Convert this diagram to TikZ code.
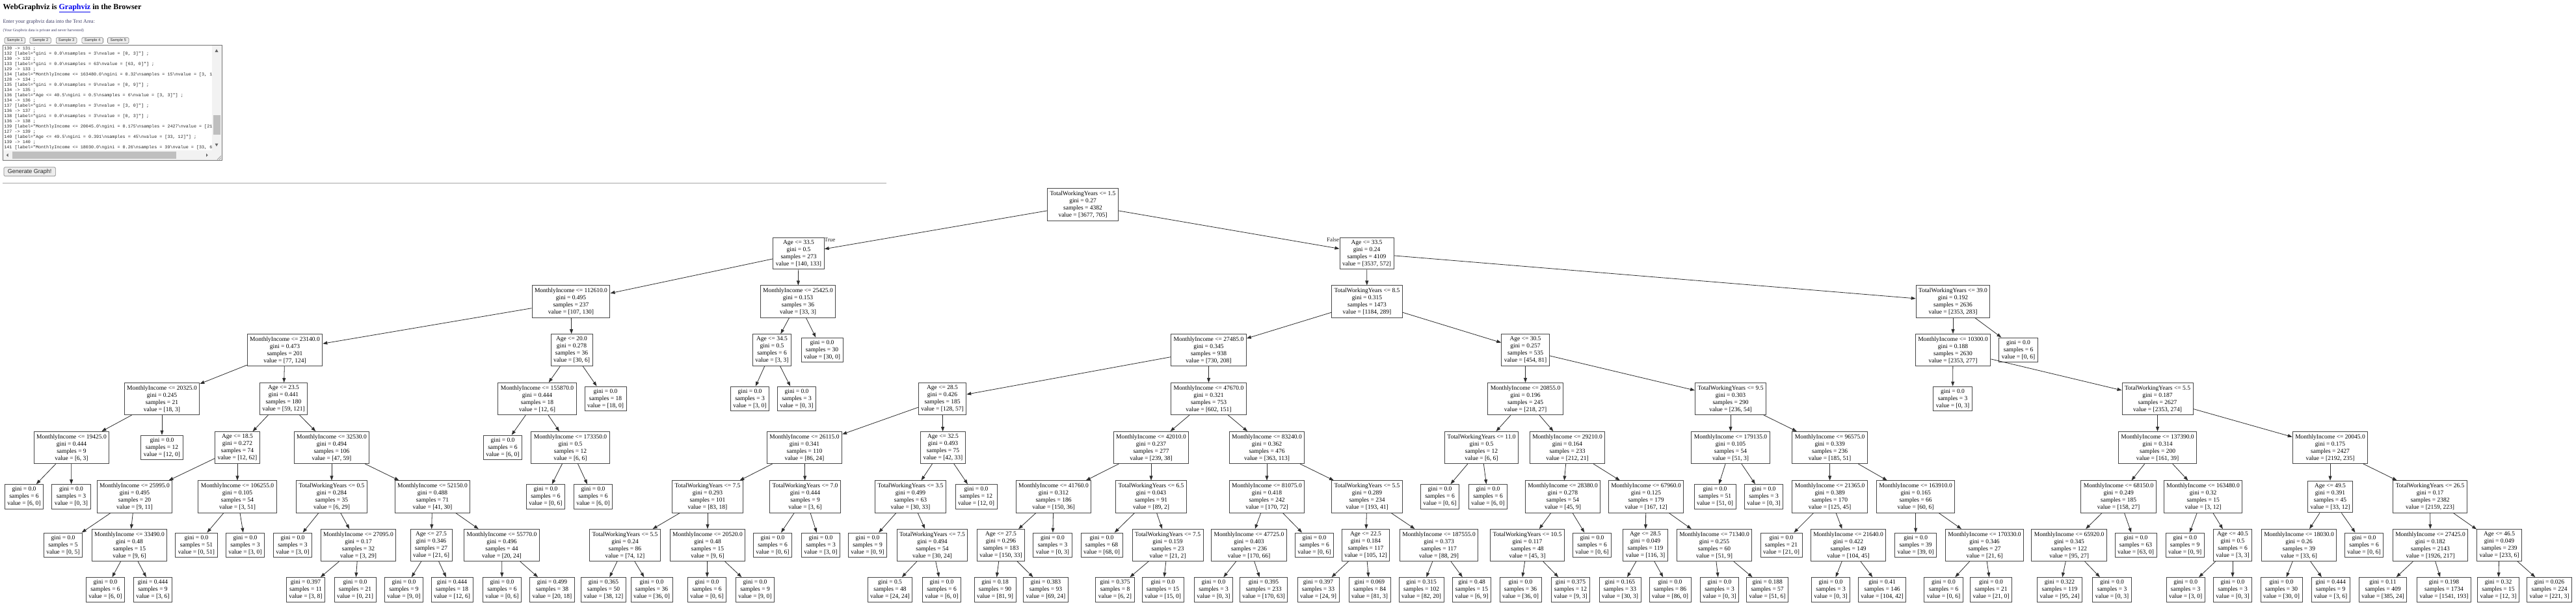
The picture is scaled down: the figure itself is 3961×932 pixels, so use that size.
\documentclass[tikz,border=0pt]{standalone}
\usepackage{fontspec}
\setmainfont{Liberation Serif}
\setsansfont{Liberation Sans}
\setmonofont{Liberation Mono}
\usetikzlibrary{arrows.meta}
\definecolor{linkblue}{HTML}{0000EE}
\definecolor{subtxt}{HTML}{3E3E66}
\newcommand\BSL{\textbackslash}
\newcommand\gvI[7]{\node[gvbox] (#1) at (#2,#3) {#4\\gini = #5\\samples = #6\\value = [#7]};}
\newcommand\gvL[6]{\node[gvbox] (#1) at (#2,#3) {gini = #4\\samples = #5\\value = [#6]};}
\begin{document}
\begin{tikzpicture}[x=1pt,y=-1pt,
  gvbox/.style={draw=black!72, line width=1pt, fill=white, align=center,
    font={\fontsize{9.5}{11}\selectfont}, inner xsep=4pt, inner ysep=4pt},
  gvedge/.style={draw=black!82, line width=0.8pt, -{Triangle[length=7pt,width=5pt]}},
  lbl/.style={inner sep=0pt, font={\fontsize{9}{10}\selectfont}, text=black!85},
  btn/.style={draw=black!50, fill=black!7, rounded corners=1.5pt, line width=0.6pt,
    inner sep=0pt, font={\sffamily\fontsize{5.8}{6.5}\selectfont}, text=black!80},
  mono/.style={anchor=base west, inner sep=0pt, text=black!85,
    font={\ttfamily\fontsize{6.75}{8}\selectfont}}]
\useasboundingbox (0,0) rectangle (3961,932);
\fill[white] (0,0) rectangle (3961,932);

% ---------- web page header ----------
\node[anchor=base west, inner sep=0pt, font={\bfseries\fontsize{12}{14}\selectfont}] (title) at (4.4,14.3)
  {WebGraphviz is \textcolor{linkblue}{\underline{Graphviz}} in the Browser};
\node[anchor=base west, inner sep=0pt, text=subtxt, font={\fontsize{8}{9}\selectfont}] (enter) at (4.4,35.2)
  {Enter your graphviz data into the Text Area:};
\node[anchor=base west, inner sep=0pt, text=subtxt, font={\fontsize{6}{7}\selectfont}] (priv) at (4.4,48.8)
  {(Your Graphviz data is private and never harvested)};
\node[btn, minimum width=31.7pt, minimum height=9pt] (s1) at (22.85,62.2) {Sample 1};
\node[btn, minimum width=32.5pt, minimum height=9pt] (s2) at (62.05,62.2) {Sample 2};
\node[btn, minimum width=31.7pt, minimum height=9pt] (s3) at (102.15,62.2) {Sample 3};
\node[btn, minimum width=32.6pt, minimum height=9pt] (s4) at (142.2,62.2) {Sample 4};
\node[btn, minimum width=32.5pt, minimum height=9pt] (s5) at (181.75,62.2) {Sample 5};

% text area
\draw[black!55, line width=1pt, fill=white] (4.4,69.3) rectangle (341.5,246.7);
\fill[black!5] (325.7,69.9) rectangle (340.9,231);
\fill[black!25] (327.5,176.7) rectangle (339.3,206.7);
\fill[black!5] (4.9,231) rectangle (340.9,246.1);
\fill[black!25] (19.4,233.3) rectangle (271,244);
\fill[black!60] (330.5,80) -- (335.5,80) -- (333,75.5) -- cycle;
\fill[black!60] (330.5,220.5) -- (335.5,220.5) -- (333,225) -- cycle;
\fill[black!60] (12.5,235.8) -- (12.5,241.2) -- (9.8,238.5) -- cycle;
\fill[black!60] (317,235.8) -- (317,241.2) -- (319.7,238.5) -- cycle;
\draw[black!50, line width=0.5pt] (334,245.5) -- (340,239.5) (337,245.5) -- (340,242.5);
\begin{scope}
\clip (5.5,70.3) rectangle (325.5,230.6);
\node[mono] (t1) at (6.2,76.2) {130 -> 131 ;};
\node[mono] (t2) at (6.2,84.24) {132 [label="gini = 0.0\BSL nsamples = 3\BSL nvalue = [0, 3]"] ;};
\node[mono] (t3) at (6.2,92.28) {130 -> 132 ;};
\node[mono] (t4) at (6.2,100.32) {133 [label="gini = 0.0\BSL nsamples = 63\BSL nvalue = [63, 0]"] ;};
\node[mono] (t5) at (6.2,108.36) {129 -> 133 ;};
\node[mono] (t6) at (6.2,116.4) {134 [label="MonthlyIncome <= 163480.0\BSL ngini = 0.32\BSL nsamples = 15\BSL nvalue = [3, 12]"] ;};
\node[mono] (t7) at (6.2,124.44) {128 -> 134 ;};
\node[mono] (t8) at (6.2,132.48) {135 [label="gini = 0.0\BSL nsamples = 9\BSL nvalue = [0, 9]"] ;};
\node[mono] (t9) at (6.2,140.52) {134 -> 135 ;};
\node[mono] (t10) at (6.2,148.56) {136 [label="Age <= 40.5\BSL ngini = 0.5\BSL nsamples = 6\BSL nvalue = [3, 3]"] ;};
\node[mono] (t11) at (6.2,156.6) {134 -> 136 ;};
\node[mono] (t12) at (6.2,164.64) {137 [label="gini = 0.0\BSL nsamples = 3\BSL nvalue = [3, 0]"] ;};
\node[mono] (t13) at (6.2,172.68) {136 -> 137 ;};
\node[mono] (t14) at (6.2,180.72) {138 [label="gini = 0.0\BSL nsamples = 3\BSL nvalue = [0, 3]"] ;};
\node[mono] (t15) at (6.2,188.76) {136 -> 138 ;};
\node[mono] (t16) at (6.2,196.8) {139 [label="MonthlyIncome <= 20045.0\BSL ngini = 0.175\BSL nsamples = 2427\BSL nvalue = [2192, 235]"] ;};
\node[mono] (t17) at (6.2,204.84) {127 -> 139 ;};
\node[mono] (t18) at (6.2,212.88) {140 [label="Age <= 49.5\BSL ngini = 0.391\BSL nsamples = 45\BSL nvalue = [33, 12]"] ;};
\node[mono] (t19) at (6.2,220.92) {139 -> 140 ;};
\node[mono] (t20) at (6.2,228.96) {141 [label="MonthlyIncome <= 18030.0\BSL ngini = 0.26\BSL nsamples = 39\BSL nvalue = [33, 6]"] ;};
\end{scope}
\node[btn, minimum width=79.4pt, minimum height=13.7pt, font={\sffamily\fontsize{9}{10}\selectfont}, text=black!85] (gen) at (45.7,263.85) {Generate Graph!};
\draw[black!35, line width=1.2pt] (4.4,281.7) -- (1362.6,281.7);

% ---------- decision tree ----------
\gvI{n0}{1665}{314.5}{TotalWorkingYears <= 1.5}{0.27}{4382}{3677, 705}
\gvI{n1}{1228}{389.5}{Age <= 33.5}{0.5}{273}{140, 133}
\gvI{n2}{878}{463.5}{MonthlyIncome <= 112610.0}{0.495}{237}{107, 130}
\gvI{n3}{438}{538}{MonthlyIncome <= 23140.0}{0.473}{201}{77, 124}
\gvI{n4}{249}{613}{MonthlyIncome <= 20325.0}{0.245}{21}{18, 3}
\gvI{n5}{110}{688}{MonthlyIncome <= 19425.0}{0.444}{9}{6, 3}
\gvL{n6}{37}{763.5}{0.0}{6}{6, 0}
\gvL{n7}{109.5}{763.5}{0.0}{3}{0, 3}
\gvL{n8}{249}{688}{0.0}{12}{12, 0}
\gvI{n9}{436}{613}{Age <= 23.5}{0.441}{180}{59, 121}
\gvI{n10}{365}{688}{Age <= 18.5}{0.272}{74}{12, 62}
\gvI{n11}{207}{763.5}{MonthlyIncome <= 25995.0}{0.495}{20}{9, 11}
\gvL{n12}{97}{838}{0.0}{5}{0, 5}
\gvI{n13}{199}{838}{MonthlyIncome <= 33490.0}{0.48}{15}{9, 6}
\gvL{n14}{162}{906.5}{0.0}{6}{6, 0}
\gvL{n15}{235}{906.5}{0.444}{9}{3, 6}
\gvI{n16}{365}{763.5}{MonthlyIncome <= 106255.0}{0.105}{54}{3, 51}
\gvL{n17}{302}{838}{0.0}{51}{0, 51}
\gvL{n18}{377}{838}{0.0}{3}{3, 0}
\gvI{n19}{510}{688}{MonthlyIncome <= 32530.0}{0.494}{106}{47, 59}
\gvI{n20}{510}{763.5}{TotalWorkingYears <= 0.5}{0.284}{35}{6, 29}
\gvL{n21}{450}{838}{0.0}{3}{3, 0}
\gvI{n22}{551}{838}{MonthlyIncome <= 27095.0}{0.17}{32}{3, 29}
\gvL{n23}{470}{906.5}{0.397}{11}{3, 8}
\gvL{n24}{546}{906.5}{0.0}{21}{0, 21}
\gvI{n25}{665}{763.5}{MonthlyIncome <= 52150.0}{0.488}{71}{41, 30}
\gvI{n26}{663}{838}{Age <= 27.5}{0.346}{27}{21, 6}
\gvL{n27}{621}{906.5}{0.0}{9}{9, 0}
\gvL{n28}{695}{906.5}{0.444}{18}{12, 6}
\gvI{n29}{771.5}{838}{MonthlyIncome <= 55770.0}{0.496}{44}{20, 24}
\gvL{n30}{772}{906.5}{0.0}{6}{0, 6}
\gvL{n31}{849}{906.5}{0.499}{38}{20, 18}
\gvI{n32}{879}{538}{Age <= 20.0}{0.278}{36}{30, 6}
\gvI{n33}{826}{613}{MonthlyIncome <= 155870.0}{0.444}{18}{12, 6}
\gvL{n34}{773}{688}{0.0}{6}{6, 0}
\gvI{n35}{877}{688}{MonthlyIncome <= 173350.0}{0.5}{12}{6, 6}
\gvL{n36}{839}{763.5}{0.0}{6}{0, 6}
\gvL{n37}{912}{763.5}{0.0}{6}{6, 0}
\gvL{n38}{931}{613}{0.0}{18}{18, 0}
\gvI{n39}{1227}{463.5}{MonthlyIncome <= 25425.0}{0.153}{36}{33, 3}
\gvI{n40}{1187}{538}{Age <= 34.5}{0.5}{6}{3, 3}
\gvL{n41}{1153}{613}{0.0}{3}{3, 0}
\gvL{n42}{1225}{613}{0.0}{3}{0, 3}
\gvL{n43}{1264}{538}{0.0}{30}{30, 0}
\gvI{n44}{2101.5}{389.5}{Age <= 33.5}{0.24}{4109}{3537, 572}
\gvI{n45}{2102}{463.5}{TotalWorkingYears <= 8.5}{0.315}{1473}{1184, 289}
\gvI{n46}{1858.5}{538}{MonthlyIncome <= 27485.0}{0.345}{938}{730, 208}
\gvI{n47}{1449}{613}{Age <= 28.5}{0.426}{185}{128, 57}
\gvI{n48}{1237}{688}{MonthlyIncome <= 26115.0}{0.341}{110}{86, 24}
\gvI{n49}{1088}{763.5}{TotalWorkingYears <= 7.5}{0.293}{101}{83, 18}
\gvI{n50}{961}{838}{TotalWorkingYears <= 5.5}{0.24}{86}{74, 12}
\gvL{n51}{928}{906.5}{0.365}{50}{38, 12}
\gvL{n52}{1002}{906.5}{0.0}{36}{36, 0}
\gvI{n53}{1088}{838}{MonthlyIncome <= 20520.0}{0.48}{15}{9, 6}
\gvL{n54}{1087}{906.5}{0.0}{6}{0, 6}
\gvL{n55}{1161}{906.5}{0.0}{9}{9, 0}
\gvI{n56}{1238}{763.5}{TotalWorkingYears <= 7.0}{0.444}{9}{3, 6}
\gvL{n57}{1188}{838}{0.0}{6}{0, 6}
\gvL{n58}{1262}{838}{0.0}{3}{3, 0}
\gvI{n59}{1450}{688}{Age <= 32.5}{0.493}{75}{42, 33}
\gvI{n60}{1400}{763.5}{TotalWorkingYears <= 3.5}{0.499}{63}{30, 33}
\gvL{n61}{1334}{838}{0.0}{9}{0, 9}
\gvI{n62}{1433.5}{838}{TotalWorkingYears <= 7.5}{0.494}{54}{30, 24}
\gvL{n63}{1368.5}{906.5}{0.5}{48}{24, 24}
\gvL{n64}{1448}{906.5}{0.0}{6}{6, 0}
\gvL{n65}{1501}{763.5}{0.0}{12}{12, 0}
\gvI{n66}{1858.5}{613}{MonthlyIncome <= 47670.0}{0.321}{753}{602, 151}
\gvI{n67}{1770}{688}{MonthlyIncome <= 42010.0}{0.237}{277}{239, 38}
\gvI{n68}{1620}{763.5}{MonthlyIncome <= 41760.0}{0.312}{186}{150, 36}
\gvI{n69}{1539}{838}{Age <= 27.5}{0.296}{183}{150, 33}
\gvL{n70}{1530}{906.5}{0.18}{90}{81, 9}
\gvL{n71}{1608}{906.5}{0.383}{93}{69, 24}
\gvL{n72}{1618.5}{838}{0.0}{3}{0, 3}
\gvI{n73}{1770}{763.5}{TotalWorkingYears <= 6.5}{0.043}{91}{89, 2}
\gvL{n74}{1694}{838}{0.0}{68}{68, 0}
\gvI{n75}{1795.6}{838}{TotalWorkingYears <= 7.5}{0.159}{23}{21, 2}
\gvL{n76}{1714.5}{906.5}{0.375}{8}{6, 2}
\gvL{n77}{1788}{906.5}{0.0}{15}{15, 0}
\gvI{n78}{1948}{688}{MonthlyIncome <= 83240.0}{0.362}{476}{363, 113}
\gvI{n79}{1948}{763.5}{MonthlyIncome <= 81075.0}{0.418}{242}{170, 72}
\gvI{n80}{1920.5}{838}{MonthlyIncome <= 47725.0}{0.403}{236}{170, 66}
\gvL{n81}{1866}{906.5}{0.0}{3}{0, 3}
\gvL{n82}{1943}{906.5}{0.395}{233}{170, 63}
\gvL{n83}{2021}{838}{0.0}{6}{0, 6}
\gvI{n84}{2102}{763.5}{TotalWorkingYears <= 5.5}{0.289}{234}{193, 41}
\gvI{n85}{2100}{838}{Age <= 22.5}{0.184}{117}{105, 12}
\gvL{n86}{2027}{906.5}{0.397}{33}{24, 9}
\gvL{n87}{2106}{906.5}{0.069}{84}{81, 3}
\gvI{n88}{2212.6}{838}{MonthlyIncome <= 187555.0}{0.373}{117}{88, 29}
\gvL{n89}{2185.6}{906.5}{0.315}{102}{82, 20}
\gvL{n90}{2263}{906.5}{0.48}{15}{6, 9}
\gvI{n91}{2345.5}{538}{Age <= 30.5}{0.257}{535}{454, 81}
\gvI{n92}{2345.5}{613}{MonthlyIncome <= 20855.0}{0.196}{245}{218, 27}
\gvI{n93}{2278}{688}{TotalWorkingYears <= 11.0}{0.5}{12}{6, 6}
\gvL{n94}{2214}{763.5}{0.0}{6}{0, 6}
\gvL{n95}{2288}{763.5}{0.0}{6}{6, 0}
\gvI{n96}{2410}{688}{MonthlyIncome <= 29210.0}{0.164}{233}{212, 21}
\gvI{n97}{2403}{763.5}{MonthlyIncome <= 28380.0}{0.278}{54}{45, 9}
\gvI{n98}{2348.5}{838}{TotalWorkingYears <= 10.5}{0.117}{48}{45, 3}
\gvL{n99}{2338}{906.5}{0.0}{36}{36, 0}
\gvL{n100}{2415}{906.5}{0.375}{12}{9, 3}
\gvL{n101}{2448}{838}{0.0}{6}{0, 6}
\gvI{n102}{2531}{763.5}{MonthlyIncome <= 67960.0}{0.125}{179}{167, 12}
\gvI{n103}{2530}{838}{Age <= 28.5}{0.049}{119}{116, 3}
\gvL{n104}{2491}{906.5}{0.165}{33}{30, 3}
\gvL{n105}{2568}{906.5}{0.0}{86}{86, 0}
\gvI{n106}{2636}{838}{MonthlyIncome <= 71340.0}{0.255}{60}{51, 9}
\gvL{n107}{2644}{906.5}{0.0}{3}{0, 3}
\gvL{n108}{2717.6}{906.5}{0.188}{57}{51, 6}
\gvI{n109}{2661}{613}{TotalWorkingYears <= 9.5}{0.303}{290}{236, 54}
\gvI{n110}{2661}{688}{MonthlyIncome <= 179135.0}{0.105}{54}{51, 3}
\gvL{n111}{2637}{763.5}{0.0}{51}{51, 0}
\gvL{n112}{2712}{763.5}{0.0}{3}{0, 3}
\gvI{n113}{2813.6}{688}{MonthlyIncome <= 96575.0}{0.339}{236}{185, 51}
\gvI{n114}{2813.6}{763.5}{MonthlyIncome <= 21365.0}{0.389}{170}{125, 45}
\gvL{n115}{2739}{838}{0.0}{21}{21, 0}
\gvI{n116}{2842}{838}{MonthlyIncome <= 21640.0}{0.422}{149}{104, 45}
\gvL{n117}{2815}{906.5}{0.0}{3}{0, 3}
\gvL{n118}{2894}{906.5}{0.41}{146}{104, 42}
\gvI{n119}{2945.6}{763.5}{MonthlyIncome <= 163910.0}{0.165}{66}{60, 6}
\gvL{n120}{2945.6}{838}{0.0}{39}{39, 0}
\gvI{n121}{3051.5}{838}{MonthlyIncome <= 170330.0}{0.346}{27}{21, 6}
\gvL{n122}{2988.5}{906.5}{0.0}{6}{0, 6}
\gvL{n123}{3061.5}{906.5}{0.0}{21}{21, 0}
\gvI{n124}{3003}{463.5}{TotalWorkingYears <= 39.0}{0.192}{2636}{2353, 283}
\gvI{n125}{3003}{538}{MonthlyIncome <= 10300.0}{0.188}{2630}{2353, 277}
\gvL{n126}{3002.5}{613}{0.0}{3}{0, 3}
\gvI{n127}{3317.5}{613}{TotalWorkingYears <= 5.5}{0.187}{2627}{2353, 274}
\gvI{n128}{3317.5}{688}{MonthlyIncome <= 137390.0}{0.314}{200}{161, 39}
\gvI{n129}{3257.6}{763.5}{MonthlyIncome <= 68150.0}{0.249}{185}{158, 27}
\gvI{n130}{3181.6}{838}{MonthlyIncome <= 65920.0}{0.345}{122}{95, 27}
\gvL{n131}{3167}{906.5}{0.322}{119}{95, 24}
\gvL{n132}{3247.5}{906.5}{0.0}{3}{0, 3}
\gvL{n133}{3284}{838}{0.0}{63}{63, 0}
\gvI{n134}{3387.6}{763.5}{MonthlyIncome <= 163480.0}{0.32}{15}{3, 12}
\gvL{n135}{3359.6}{838}{0.0}{9}{0, 9}
\gvI{n136}{3433}{838}{Age <= 40.5}{0.5}{6}{3, 3}
\gvL{n137}{3360.6}{906.5}{0.0}{3}{3, 0}
\gvL{n138}{3433}{906.5}{0.0}{3}{0, 3}
\gvI{n139}{3583}{688}{MonthlyIncome <= 20045.0}{0.175}{2427}{2192, 235}
\gvI{n140}{3583}{763.5}{Age <= 49.5}{0.391}{45}{33, 12}
\gvI{n141}{3535}{838}{MonthlyIncome <= 18030.0}{0.26}{39}{33, 6}
\gvL{n142}{3508}{906.5}{0.0}{30}{30, 0}
\gvL{n143}{3583.6}{906.5}{0.444}{9}{3, 6}
\gvL{n144}{3635}{838}{0.0}{6}{0, 6}
\gvI{n145}{3736.6}{763.5}{TotalWorkingYears <= 26.5}{0.17}{2382}{2159, 223}
\gvI{n146}{3737}{838}{MonthlyIncome <= 27425.0}{0.182}{2143}{1926, 217}
\gvL{n147}{3664}{906.5}{0.11}{409}{385, 24}
\gvL{n148}{3758}{906.5}{0.198}{1734}{1541, 193}
\gvI{n149}{3843}{838}{Age <= 46.5}{0.049}{239}{233, 6}
\gvL{n150}{3841.5}{906.5}{0.32}{15}{12, 3}
\gvL{n151}{3920}{906.5}{0.026}{224}{221, 3}
\gvL{n152}{3103.5}{538}{0.0}{6}{0, 6}

\foreach \p/\c in {0/1,0/44,1/2,1/39,2/3,2/32,3/4,3/9,4/5,4/8,5/6,5/7,9/10,9/19,
  10/11,10/16,11/12,11/13,13/14,13/15,16/17,16/18,19/20,19/25,20/21,20/22,22/23,22/24,
  25/26,25/29,26/27,26/28,29/30,29/31,32/33,32/38,33/34,33/35,35/36,35/37,39/40,39/43,
  40/41,40/42,44/45,44/124,45/46,45/91,46/47,46/66,47/48,47/59,48/49,48/56,49/50,49/53,
  50/51,50/52,53/54,53/55,56/57,56/58,59/60,59/65,60/61,60/62,62/63,62/64,66/67,66/78,
  67/68,67/73,68/69,68/72,69/70,69/71,73/74,73/75,75/76,75/77,78/79,78/84,79/80,79/83,
  80/81,80/82,84/85,84/88,85/86,85/87,88/89,88/90,91/92,91/109,92/93,92/96,93/94,93/95,
  96/97,96/102,97/98,97/101,98/99,98/100,102/103,102/106,103/104,103/105,106/107,106/108,
  109/110,109/113,110/111,110/112,113/114,113/119,114/115,114/116,116/117,116/118,
  119/120,119/121,121/122,121/123,124/125,124/152,125/126,125/127,127/128,127/139,
  128/129,128/134,129/130,129/133,130/131,130/132,134/135,134/136,136/137,136/138,
  139/140,139/145,140/141,140/144,141/142,141/143,145/146,145/149,146/147,146/148,
  149/150,149/151}
  \draw[gvedge] (n\p) -- (n\c);

\node[lbl] (ltrue) at (1276,368.5) {True};
\node[lbl] (lfalse) at (2049.5,368.5) {False};
\end{tikzpicture}
\end{document}
